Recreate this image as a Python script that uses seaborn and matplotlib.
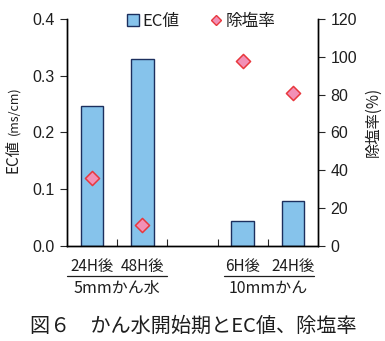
import matplotlib
matplotlib.use("Agg")
import matplotlib.pyplot as plt
import matplotlib.transforms as mtransforms
from matplotlib.lines import Line2D
from matplotlib.patches import Patch
import seaborn as sns
import pandas as pd

# Data
slots = ["5mm_24H", "5mm_48H", "gap", "10mm_6H", "10mm_24H"]
keys = ["5mm_24H", "5mm_48H", "10mm_6H", "10mm_24H"]
tick_labels = ["24H後", "48H後", "6H後", "24H後"]
ec_values = [0.247, 0.33, 0.044, 0.08]
removal_rate = [36, 11, 98, 81]
groups = ["5mmかん水", "10mmかん"]

sns.set_style("ticks")
plt.rcParams["font.family"] = ["Noto Sans CJK JP", "DejaVu Sans"]

BAR_FILL = "#86C3EB"
BAR_EDGE = "#1C2F5E"
MK_FILL = "#F290B6"
MK_EDGE = "#E8383D"
TXT = "#1E1E1E"
NUM_FONT = ["Liberation Sans", "DejaVu Sans"]

df = pd.DataFrame({"key": keys, "ec": ec_values, "rate": removal_rate})
df["pos"] = [slots.index(k) for k in keys]

fig = plt.figure(figsize=(3.85, 3.41), dpi=100)
ax = fig.add_axes([0.174, 0.279, 0.652, 0.665])

sns.barplot(data=df, x="key", y="ec", order=slots, ax=ax, width=0.45,
            color=BAR_FILL, edgecolor=BAR_EDGE, linewidth=1.0, saturation=1)
ax.set_xlim(-0.5, 4.5)
ax.set_ylim(0, 0.4)
ax.set_yticks([0.0, 0.1, 0.2, 0.3, 0.4])
ax.set_yticklabels(["0.0", "0.1", "0.2", "0.3", "0.4"])
ax.set_xticks([0.5, 1.5, 2.5, 3.5])
ax.set_xticklabels([])
ax.tick_params(axis="x", direction="in", length=5, width=0.8)
ax.tick_params(axis="y", direction="out", length=5, width=0.8, labelsize=11.5, pad=4,
               labelcolor=TXT)
ax.set_xlabel("")
ax.set_ylabel("")

ax2 = ax.twinx()
sns.scatterplot(data=df, x="pos", y="rate", ax=ax2, marker="D", s=52,
                color=MK_FILL, edgecolor=MK_EDGE, linewidth=1.1, zorder=5)
ax2.set_xlim(-0.5, 4.5)
ax2.set_ylim(0, 120)
ax2.set_yticks([0, 20, 40, 60, 80, 100, 120])
ax2.tick_params(axis="y", direction="out", length=5, width=0.8, labelsize=11.5, pad=4,
                labelcolor=TXT)
ax2.set_xlabel("")
ax2.set_ylabel("")

for lab in ax.get_yticklabels() + ax2.get_yticklabels():
    lab.set_family(NUM_FONT)

for a in (ax, ax2):
    a.spines["top"].set_visible(False)
    for s in ("left", "right", "bottom"):
        a.spines[s].set_visible(True)
        a.spines[s].set_color("black")
        a.spines[s].set_linewidth(1.0)

# Category labels and group brackets below the axis
trans = mtransforms.blended_transform_factory(ax.transData, fig.transFigure)
for k, lab in zip(keys, tick_labels):
    ax.text(slots.index(k), 1 - 266 / 341, lab, transform=trans, ha="center", va="center",
            fontsize=11, color=TXT)
for (x0, x1) in [(-0.5, 1.49), (2.62, 4.43)]:
    ax.add_line(Line2D([x0, x1], [1 - 276 / 341] * 2, transform=trans, color=TXT,
                       linewidth=0.9, clip_on=False))
ax.text(0.5, 1 - 288 / 341, groups[0], transform=trans, ha="center", va="center",
        fontsize=11.5, color=TXT)
ax.text(3.5, 1 - 288 / 341, groups[1], transform=trans, ha="center", va="center",
        fontsize=11.5, color=TXT)

# Axis titles
fig.text(13.5 / 385, 1 - 156 / 341, "EC値", rotation=90, ha="center", va="center",
         fontsize=11, color=TXT)
fig.text(13.5 / 385, 1 - 111 / 341, "(ms/cm)", rotation=90, ha="center", va="center",
         fontsize=9, color=TXT)
fig.text(373 / 385, 1 - 122 / 341, "除塩率(%)", rotation=90, ha="center", va="center",
         fontsize=11, color=TXT)

# Legend
handles = [
    Patch(facecolor=BAR_FILL, edgecolor=BAR_EDGE, linewidth=1.0, label="EC値"),
    Line2D([], [], linestyle="none", marker="D", markersize=5.5, markerfacecolor=MK_FILL,
           markeredgecolor=MK_EDGE, markeredgewidth=1.0, label="除塩率"),
]
ax.legend(handles=handles, loc="upper center", bbox_to_anchor=(0.535, 1.095), ncol=2,
          frameon=False, fontsize=12, handlelength=0.7, handleheight=0.7,
          handletextpad=0.25, columnspacing=1.8, labelcolor=TXT)

# Caption
fig.text(193 / 385, 1 - 326 / 341, "図６　かん水開始期とEC値、除塩率", ha="center",
         va="center", fontsize=14.5, color=TXT)

fig.savefig("out.png", dpi=100)
